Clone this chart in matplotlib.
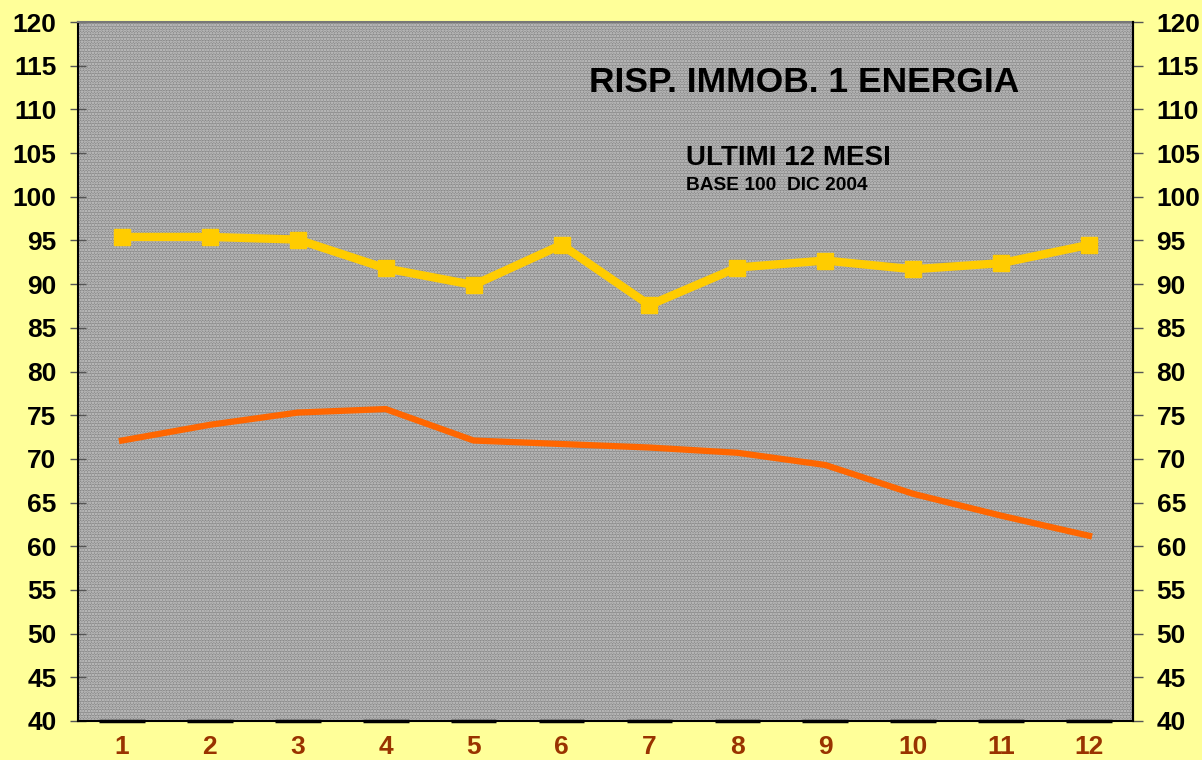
import matplotlib
matplotlib.use("Agg")
import matplotlib.pyplot as plt
from matplotlib.patches import Rectangle

months = [1, 2, 3, 4, 5, 6, 7, 8, 9, 10, 11, 12]
yellow_series = [95.4, 95.4, 95.1, 91.8, 89.9, 94.5, 87.6, 91.9, 92.7, 91.7, 92.4, 94.5]
orange_series = [72.1, 73.9, 75.3, 75.7, 72.1, 71.7, 71.3, 70.7, 69.3, 66.0, 63.5, 61.2]
base_series = [40] * 12
y_ticks = list(range(40, 121, 5))
title = "RISP. IMMOB. 1 ENERGIA"
subtitle = "ULTIMI 12 MESI"
subsubtitle = "BASE 100  DIC 2004"

plt.rcParams['font.family'] = ['Liberation Sans', 'DejaVu Sans']
plt.rcParams['hatch.linewidth'] = 1.2

fig = plt.figure(figsize=(12.02, 7.6), dpi=100, facecolor='#FFFF99')
ax = fig.add_axes([78/1202, 39/760, (1133-78)/1202, (721-22)/760])
ax.set_facecolor('#8a8a8a')
ax.add_patch(Rectangle((0, 0), 1, 1, transform=ax.transAxes, facecolor='none',
                       edgecolor='#cccccc', hatch='......', linewidth=0, zorder=0.5))

ax.set_xlim(0.5, 12.5)
ax.set_ylim(40, 120)

ax.hlines(base_series, [m - 0.26 for m in months], [m + 0.26 for m in months],
          colors='black', linewidth=2.5, zorder=2, clip_on=False)
ax.plot(months, orange_series, color='#FF6600', linewidth=4.5, zorder=3,
        solid_joinstyle='miter')
ax.plot(months, yellow_series, color='#FFCC00', linewidth=6, marker='s',
        markersize=11.5, zorder=4, solid_joinstyle='miter')

ax.set_xticks(months)
ax.set_xticklabels([str(m) for m in months], fontsize=19, fontweight='bold', color='#993300')
ax.tick_params(axis='x', length=0, pad=10)
ax.set_yticks(y_ticks)
ax.set_yticklabels([str(v) for v in y_ticks], fontsize=19, fontweight='bold')
ax.tick_params(axis='y', direction='inout', length=11, width=1, color='#555555', pad=10)

for s in ['left', 'bottom', 'right']:
    ax.spines[s].set_color('black')
    ax.spines[s].set_linewidth(1.5)
ax.spines['top'].set_color('#777777')
ax.spines['top'].set_linewidth(1.5)

ax2 = ax.twinx()
ax2.set_ylim(40, 120)
ax2.set_yticks(y_ticks)
ax2.set_yticklabels([str(v) for v in y_ticks], fontsize=19, fontweight='bold')
ax2.tick_params(axis='y', direction='out', length=7, width=1, color='#555555', pad=10)
for s in ['left', 'bottom', 'top']:
    ax2.spines[s].set_visible(False)
ax2.spines['right'].set_color('black')
ax2.spines['right'].set_linewidth(1.5)

fig.text(804/1202, 1 - 82/760, title, fontsize=25.5, fontweight='bold',
         ha='center', va='center')
fig.text(686/1202, 1 - 158/760, subtitle, fontsize=20, fontweight='bold',
         ha='left', va='center')
fig.text(686/1202, 1 - 185/760, subsubtitle, fontsize=13.8, fontweight='bold',
         ha='left', va='center')

fig.savefig('out.png', dpi=100, facecolor=fig.get_facecolor())
